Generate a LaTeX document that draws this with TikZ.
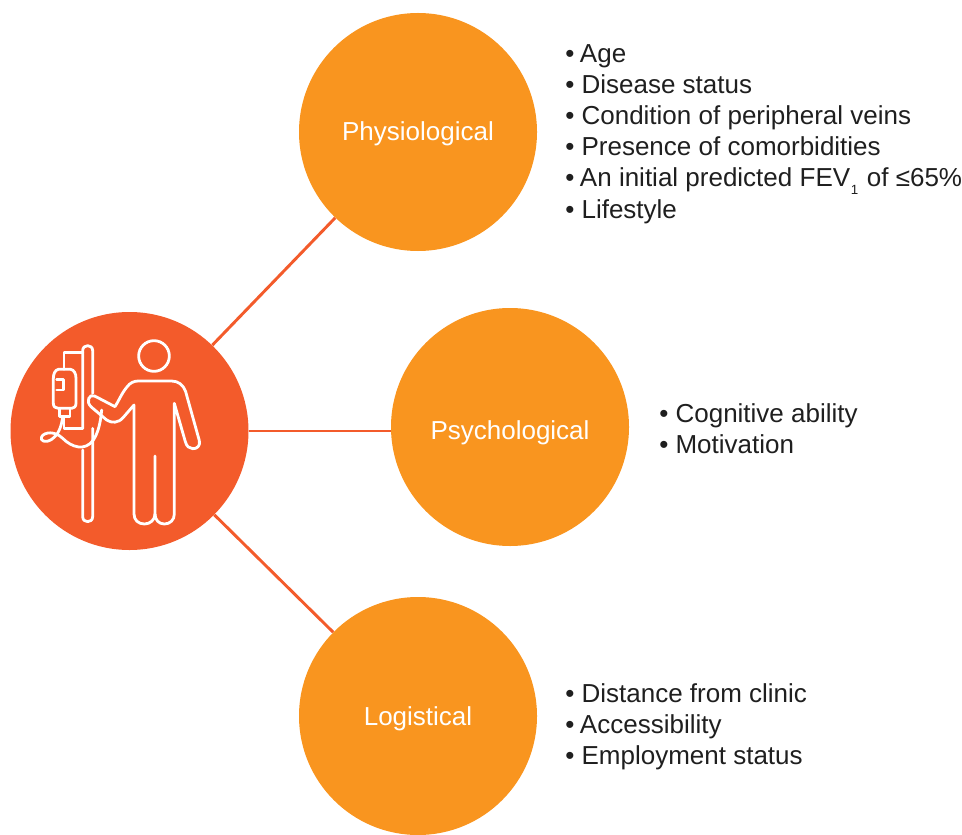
\documentclass[tikz,border=0pt]{standalone}
\usepackage{fontspec}
\setmainfont{Liberation Sans}
\definecolor{orangefill}{HTML}{F9951F}
\definecolor{redfill}{HTML}{F35B2B}
\definecolor{listtext}{HTML}{1F1F1F}
\newcommand{\bul}{\textbullet\ }
\newcommand{\bula}{\textbullet\ \kern-1.2pt}
\tikzset{
  topic/.style={circle,fill=orangefill,minimum size=178.5pt,inner sep=0pt,text=white,font=\fontsize{19.5pt}{23pt}\selectfont},
  hub/.style={circle,fill=redfill,minimum size=178.5pt,inner sep=0pt},
  link/.style={draw=redfill,line width=2.2pt},
  listing/.style={anchor=north west,align=left,inner sep=0pt,text=listtext,font=\fontsize{19.5pt}{23.4pt}\selectfont},
  icon/.style={draw=white,line width=2.1pt,line join=round,line cap=round}
}
\begin{document}
\begin{tikzpicture}[x=0.75pt,y=-0.75pt]
\useasboundingbox (0,0) rectangle (962,834);
\node[hub] (main) at (129.5,431) {};
\node[topic] (phys) at (418,132) {\raisebox{-6.5pt}[0pt][0pt]{Physiological}};
\node[topic] (psy) at (510,427) {\raisebox{-9.5pt}[0pt][0pt]{Psychological}};
\node[topic] (log) at (418,716) {\raisebox{-7.3pt}[0pt][0pt]{Logistical}};
\draw[link] (main) -- (phys);
\draw[link] (main.east) -- (main.east -| psy.west);
\draw[link] (main) -- (log);
\node[listing] (l1) at (565,44) {\bula Age\\\bul Disease status\\\bul Condition of peripheral veins\\\bul Presence of comorbidities\\\bula An initial predicted FEV\kern0.5pt\raisebox{-0.3em}{\fontsize{10pt}{10pt}\selectfont 1}\kern1pt{} of ≤65\%\\\bul Lifestyle};
\node[listing] (l2) at (659,403) {\bul Cognitive ability\\\bul Motivation};
\node[listing] (l3) at (565,683) {\bul Distance from clinic\\\bula Accessibility\\\bul Employment status};
\begin{scope}[shift={(10,310)},x=0.25pt,y=-0.25pt,icon]
  % pole
  \draw (218,355) -- (218,122) .. controls (218,102) and (248,102) .. (248,122) -- (248,250);
  \draw (248,355) -- (248,620) .. controls (248,640) and (218,640) .. (218,620) -- (218,420);
  % bag frame
  \draw (218,128) -- (162,128) -- (162,178);
  \draw (162,320) -- (162,355) -- (218,355);
  % bag
  \draw (145,178) -- (182,178) .. controls (192,180) and (198,190) .. (198,205) -- (198,280) .. controls (198,290) and (192,295) .. (185,295) -- (145,295) .. controls (136,295) and (130,290) .. (130,280) -- (130,205) .. controls (130,190) and (136,180) .. (145,178) -- cycle;
  \draw (140,208) -- (160,208) -- (160,240) -- (140,240);
  \draw (148,295) -- (148,320) -- (180,320) -- (180,295);
  % tube
  \draw (158,320) .. controls (155,345) and (148,372) .. (125,388) .. controls (108,400) and (88,393) .. (95,380) .. controls (103,366) and (135,362) .. (158,385) .. controls (185,412) and (225,425) .. (250,390) .. controls (265,368) and (272,335) .. (275,300);
  % person
  \draw (432,138) circle[radius=46];
  \draw (254,258) -- (315,290) .. controls (325,275) and (335,250) .. (350,232) .. controls (360,218) and (372,213) .. (385,213) -- (485,213) .. controls (505,213) and (520,225) .. (527,245) -- (568,392) .. controls (572,408) and (560,417) .. (548,416) .. controls (538,415) and (530,410) .. (526,395) -- (493,280) -- (493,612) .. controls (493,630) and (480,642) .. (463,642) .. controls (447,642) and (435,630) .. (435,612) -- (435,438);
  \draw (435,612) .. controls (435,630) and (420,642) .. (403,642) .. controls (385,642) and (372,630) .. (372,612) -- (372,285) -- (340,322) .. controls (325,340) and (305,340) .. (290,330) -- (245,292) .. controls (225,275) and (238,250) .. (254,258);
\end{scope}
\end{tikzpicture}
\end{document}
